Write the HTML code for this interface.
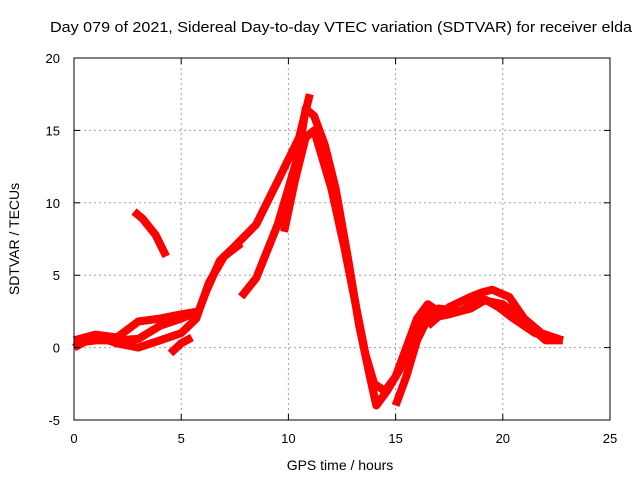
<!DOCTYPE html>
<html><head><meta charset="utf-8"><style>
body{margin:0;background:#fff;}
svg{display:block;font-family:"Liberation Sans",sans-serif;}
</style></head><body>
<svg id="chart" width="640" height="480">
<text x="341" y="32" text-anchor="middle" font-size="15" textLength="582" lengthAdjust="spacingAndGlyphs">Day 079 of 2021, Sidereal Day-to-day VTEC variation (SDTVAR) for receiver elda</text>
<text x="340" y="470" text-anchor="middle" font-size="14">GPS time / hours</text>
<text x="19" y="239" text-anchor="middle" font-size="14" transform="rotate(-90 19 239)">SDTVAR / TECUs</text>
<g id="grid"></g><g id="series"></g><g id="axes"></g>
</svg>
<script>
const xTicks=[0,5,10,15,20,25];
const yTicks=[-5,0,5,10,15,20];
const trackA=[[0,0.3],[1,0.5],[2,0.5],[3,0.6],[4,1.5],[5,2.0],[5.8,2.5],[6.2,4],[6.8,6],[7.5,7],[8.5,8.5],[9.5,11.5],[10.5,14.5],[11,17.5]];
const trackB=[[0,0],[1,0.8],[2,0.3],[3,0],[4,0.5],[5,1],[5.7,2],[6.3,4.5],[7,6.3],[7.8,7.2]];
const trackC=[[0,0.5],[1,0.9],[2,0.7],[3,1.8],[4,2],[5,2.3],[5.8,2.5]];
const trackD=[[7.8,3.5],[8.5,4.8],[9.5,8.5],[10,11],[10.5,13.5],[10.8,16.5],[11.2,16],[11.7,14],[12.2,11],[12.8,6],[13.3,1.5],[13.8,-2],[14.1,-4],[14.6,-3],[15.2,-1.5],[15.8,1],[16.3,2.5],[17,2.7],[18,2.5],[19,3.3],[20,3],[21,1.8],[22,0.5],[22.8,0.5]];
const trackE=[[9.8,8],[10.3,11.5],[10.8,14.5],[11.2,15],[11.6,13],[12,11],[12.6,7],[13.2,2.5],[13.6,-0.5],[14,-2.5],[14.5,-3],[15,-2],[15.5,0],[16,2],[16.5,3],[17,2.5]];
const trackF=[[15,-4],[15.5,-2],[16,0.5],[16.5,2],[17.5,2.3],[18.5,2.7],[19.2,3.3],[19.8,2.8],[20.5,2],[21.5,1],[22.5,0.5]];
const trackG=[[16.5,1.5],[17.5,2.8],[18.5,3.5],[19,3.8],[19.5,4],[20.3,3.5],[21,2],[21.8,1],[22.8,0.5]];
const trackH=[[2.8,9.4],[3.2,8.9],[3.8,7.8],[4.3,6.3]];
const trackI=[[4.5,-0.4],[5,0.3],[5.5,0.7]];
const tracks=[trackA,trackB,trackC,trackD,trackE,trackF,trackG,trackH,trackI];
const L=74,R=610,T=58,B=420;
const sx=t=>L+(t-0)/25*(R-L);
const sy=v=>B-(v+5)/25*(B-T);
const NS="http://www.w3.org/2000/svg";
const grid=document.getElementById('grid'),axes=document.getElementById('axes'),ser=document.getElementById('series');
function mk(tag,at,parent){const e=document.createElementNS(NS,tag);for(const k in at)e.setAttribute(k,at[k]);parent.appendChild(e);return e;}
xTicks.forEach(t=>{
  const x=sx(t);
  if(t>0&&t<25){const g=mk('line',{x1:x,y1:T,x2:x,y2:B,stroke:'#a0a0a0','stroke-dasharray':'2,3'},grid);
  
  }
  mk('line',{x1:x,y1:B,x2:x,y2:B-6,stroke:'#000'},axes);
  mk('line',{x1:x,y1:T,x2:x,y2:T+6,stroke:'#000'},axes);
  const tx=mk('text',{x:x,y:B+23,'text-anchor':'middle','font-size':'13'},axes);
  tx.textContent=t;
  
  
});
yTicks.forEach(v=>{
  const y=sy(v);
  if(v>-5&&v<20){const g=mk('line',{x1:L,y1:y,x2:R,y2:y,stroke:'#a0a0a0','stroke-dasharray':'2,3'},grid);
  
  }
  mk('line',{x1:L,y1:y,x2:L+6,y2:y,stroke:'#000'},axes);
  mk('line',{x1:R,y1:y,x2:R-6,y2:y,stroke:'#000'},axes);
  const tx=mk('text',{x:L-14,y:y+5,'text-anchor':'end','font-size':'13'},axes);
  tx.textContent=v;
  
  
});
const fr=mk('rect',{x:L,y:T,width:R-L,height:B-T,fill:'none',stroke:'#000'},axes);


tracks.forEach((tr,i)=>{
  const d=tr.map((p,j)=>(j?'L':'M')+sx(p[0]).toFixed(1)+','+sy(p[1]).toFixed(1)).join(' ');
  const p=mk('path',{d:d,fill:'none',stroke:'#ff0000','stroke-width':'8','stroke-linejoin':'round','stroke-linecap':'butt'},ser);
  
  
});
</script>
</body></html>
